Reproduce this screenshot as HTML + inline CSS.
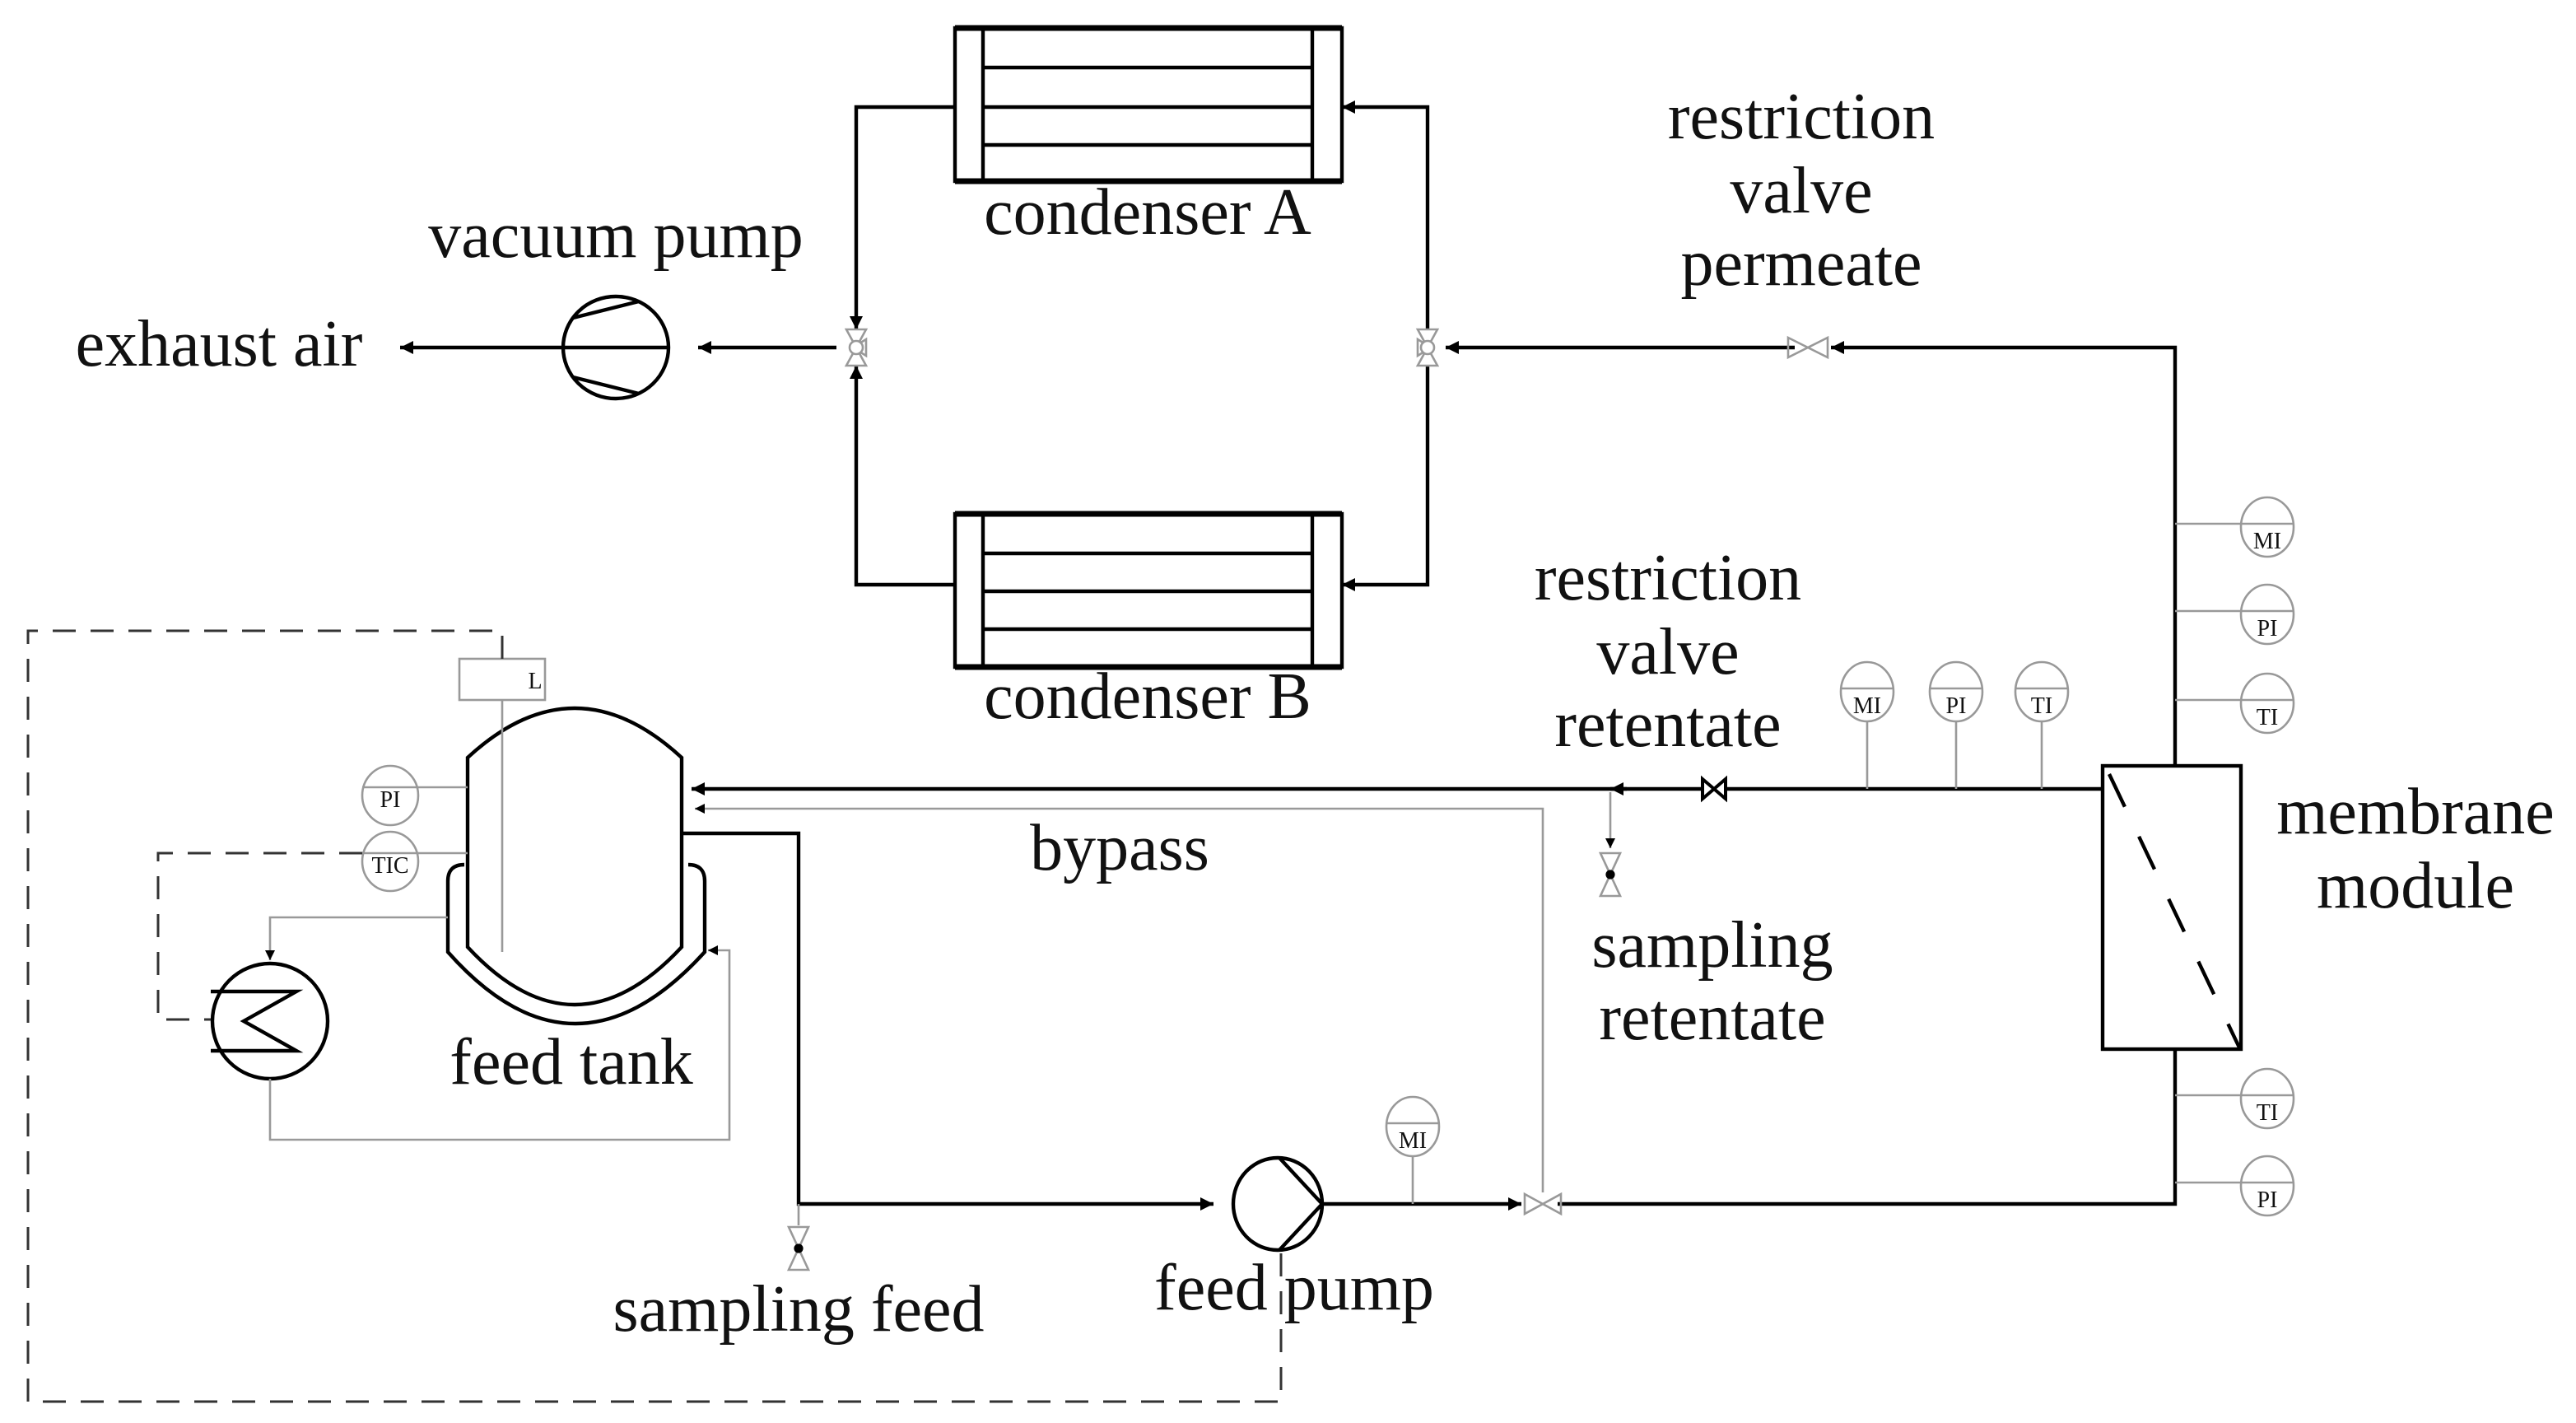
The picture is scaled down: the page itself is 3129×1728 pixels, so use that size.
<!DOCTYPE html>
<html><head><meta charset="utf-8"><style>
html,body{margin:0;padding:0;background:#fff;}
svg{display:block;}
text{font-family:"Liberation Serif",serif;fill:#111;}
</style></head><body>
<svg width="3129" height="1728" viewBox="0 0 1564.5 864" xmlns="http://www.w3.org/2000/svg">
<defs>
<marker id="a" viewBox="0 0 10 10" refX="10" refY="5" markerWidth="8" markerHeight="8" orient="auto-start-reverse" markerUnits="userSpaceOnUse">
<path d="M0,0 L10,5 L0,10 z" fill="#000"/></marker>
<marker id="g" viewBox="0 0 10 10" refX="10" refY="5" markerWidth="6" markerHeight="6" orient="auto-start-reverse" markerUnits="userSpaceOnUse">
<path d="M0,0 L10,5 L0,10 z" fill="#000"/></marker>
</defs>
<g fill="none" stroke="#000" stroke-width="2.2">
<rect x="580" y="17" width="235" height="93"/>
<line x1="580" y1="17" x2="815" y2="17" stroke-width="3.5"/>
<line x1="580" y1="110" x2="815" y2="110" stroke-width="3.5"/>
<line x1="597" y1="17" x2="597" y2="110"/><line x1="797" y1="17" x2="797" y2="110"/>
<line x1="597" y1="41" x2="797" y2="41"/><line x1="597" y1="65" x2="797" y2="65"/><line x1="597" y1="88" x2="797" y2="88"/>
<rect x="580" y="312" width="235" height="93"/>
<line x1="580" y1="312" x2="815" y2="312" stroke-width="3.5"/>
<line x1="580" y1="405" x2="815" y2="405" stroke-width="3.5"/>
<line x1="597" y1="312" x2="597" y2="405"/><line x1="797" y1="312" x2="797" y2="405"/>
<line x1="597" y1="336" x2="797" y2="336"/><line x1="597" y1="359" x2="797" y2="359"/><line x1="597" y1="382" x2="797" y2="382"/>
<path d="M580,65 H520 V200" marker-end="url(#a)"/>
<path d="M580,355 H520 V222" marker-end="url(#a)"/>
<path d="M867,200 V65 H815" marker-end="url(#a)"/>
<path d="M867,222 V355 H815" marker-end="url(#a)"/>
<path d="M1321,465 V211 H1112" marker-end="url(#a)"/>
<path d="M1090,211 H878" marker-end="url(#a)"/>
<path d="M508,211 H424" marker-end="url(#a)"/>
<path d="M406,211 H243" marker-end="url(#a)"/>
<ellipse cx="374" cy="211" rx="32" ry="31"/>
<line x1="348" y1="193" x2="388" y2="183"/><line x1="348" y1="229" x2="388" y2="239"/>
<rect x="1277" y="465" width="84" height="172"/>
<line x1="1281" y1="470" x2="1360" y2="636" stroke-dasharray="22,20"/>
<path d="M1277,479 H1048"/>
<path d="M1034,479 H420" marker-end="url(#a)"/>
<line x1="988" y1="479" x2="978" y2="479" marker-end="url(#a)"/>
<path d="M1034,473 L1048,485 V473 L1034,485 Z" stroke-width="2"/>
<path d="M414,506 H485 V731 H737" marker-end="url(#a)"/>
<ellipse cx="776" cy="731" rx="27" ry="28"/>
<path d="M777,703 L803,731 L777,759"/>
<path d="M803,731 H924" marker-end="url(#a)"/>
<path d="M946,731 H1321 V637"/>
<path d="M284,575 V460 Q349,400 414,460 V575 Q349,645 284,575 Z"/>
<path d="M272,535 Q272,525 282,525 M272,535 V578 Q349,665 428,578 V535 Q428,525 418,525"/>
<ellipse cx="164" cy="620" rx="35" ry="35"/>
<path d="M128,602 H180 L148,620 L180,638 H128"/>
</g>
<g fill="none" stroke="#999" stroke-width="1.3">
<path d="M937,724 V491 H422" marker-end="url(#g)"/>
<path d="M978,481 V515" marker-end="url(#g)"/>
<path d="M972,518 L984,518 L972,544 L984,544 Z"/>
<path d="M479,745 L491,745 L479,771 L491,771 Z"/>
<path d="M1086,205 L1110,217 V205 L1086,217 Z"/>
<path d="M926,725 L948,737 V725 L926,737 Z"/>
<path d="M514,200 L526,200 L514,222 L526,222 Z M526,206 V216 L518,211 Z"/><circle cx="520" cy="211" r="4" fill="#fff"/>
<path d="M861,200 L873,200 L861,222 L873,222 Z M861,206 V216 L869,211 Z"/><circle cx="867" cy="211" r="4" fill="#fff"/>
<line x1="1321" y1="318" x2="1377" y2="318"/><line x1="1321" y1="371" x2="1377" y2="371"/><line x1="1321" y1="425" x2="1377" y2="425"/>
<line x1="1321" y1="665" x2="1377" y2="665"/><line x1="1321" y1="718" x2="1377" y2="718"/>
<ellipse cx="1377" cy="320" rx="16" ry="18" fill="#fff"/><line x1="1361" y1="318" x2="1393" y2="318"/>
<ellipse cx="1377" cy="373" rx="16" ry="18" fill="#fff"/><line x1="1361" y1="371" x2="1393" y2="371"/>
<ellipse cx="1377" cy="427" rx="16" ry="18" fill="#fff"/><line x1="1361" y1="425" x2="1393" y2="425"/>
<ellipse cx="1377" cy="667" rx="16" ry="18" fill="#fff"/><line x1="1361" y1="665" x2="1393" y2="665"/>
<ellipse cx="1377" cy="720" rx="16" ry="18" fill="#fff"/><line x1="1361" y1="718" x2="1393" y2="718"/>
<line x1="1134" y1="436" x2="1134" y2="479"/><line x1="1188" y1="436" x2="1188" y2="479"/><line x1="1240" y1="436" x2="1240" y2="479"/>
<ellipse cx="1134" cy="420" rx="16" ry="18" fill="#fff"/><line x1="1118" y1="418" x2="1150" y2="418"/>
<ellipse cx="1188" cy="420" rx="16" ry="18" fill="#fff"/><line x1="1172" y1="418" x2="1204" y2="418"/>
<ellipse cx="1240" cy="420" rx="16" ry="18" fill="#fff"/><line x1="1224" y1="418" x2="1256" y2="418"/>
<line x1="858" y1="702" x2="858" y2="731"/>
<ellipse cx="858" cy="684" rx="16" ry="18" fill="#fff"/><line x1="842" y1="682" x2="874" y2="682"/>
<ellipse cx="237" cy="483" rx="17" ry="18" fill="#fff"/><line x1="220" y1="478" x2="284" y2="478"/>
<ellipse cx="237" cy="523" rx="17" ry="18" fill="#fff"/><line x1="220" y1="518" x2="284" y2="518"/>
<rect x="279" y="400" width="52" height="25" fill="#fff"/>
<line x1="305" y1="425" x2="305" y2="578"/>
<path d="M272,557 H164 V583" marker-end="url(#g)"/>
<path d="M164,655 V692 H443 V577 H430" marker-end="url(#g)"/>
</g>
<circle cx="978" cy="531" r="2.8" fill="#000"/>
<circle cx="485" cy="758" r="2.8" fill="#000"/>
<line x1="485" y1="731" x2="485" y2="744" stroke="#999" stroke-width="1.3"/>
<g fill="none" stroke="#333" stroke-width="1.5" stroke-dasharray="14,9">
<path d="M305,400 V383 H17 V851 H778 V760"/>
<path d="M220,518 H96 V619 H128"/>
</g>
<g font-size="40" text-anchor="middle">
<text x="133" y="222">exhaust air</text>
<text x="374" y="156">vacuum pump</text>
<text x="697" y="142">condenser A</text>
<text x="697" y="436">condenser B</text>
<text x="1094" y="84">restriction</text>
<text x="1094" y="129">valve</text>
<text x="1094" y="173">permeate</text>
<text x="1013" y="364">restriction</text>
<text x="1013" y="409">valve</text>
<text x="1013" y="453">retentate</text>
<text x="680" y="528">bypass</text>
<text x="1467" y="506">membrane</text>
<text x="1467" y="551">module</text>
<text x="1040" y="587">sampling</text>
<text x="1040" y="631">retentate</text>
<text x="347" y="658">feed tank</text>
<text x="485" y="808">sampling feed</text>
<text x="786" y="795">feed pump</text>
</g>
<g font-size="14" text-anchor="middle">
<text x="1377" y="333">MI</text><text x="1377" y="386">PI</text><text x="1377" y="440">TI</text>
<text x="1377" y="680">TI</text><text x="1377" y="733">PI</text>
<text x="1134" y="433">MI</text><text x="1188" y="433">PI</text><text x="1240" y="433">TI</text>
<text x="858" y="697">MI</text>
<text x="237" y="490">PI</text><text x="237" y="530">TIC</text>
<text x="325" y="418">L</text>
</g>
</svg>
</body></html>
